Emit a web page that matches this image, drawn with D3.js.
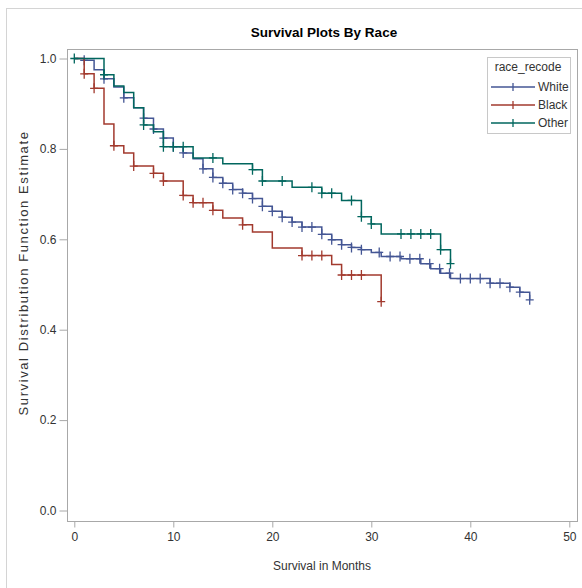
<!DOCTYPE html>
<html>
<head>
<meta charset="utf-8">
<script src="https://cdnjs.cloudflare.com/ajax/libs/d3/7.8.5/d3.min.js"></script>
<style>
  body { margin: 0; background: #fff; }
  svg { display: block; font-family: "Liberation Sans", Arial, sans-serif; }
</style>
</head>
<body>
<div id="chart"></div>
<script>
// survival step data (time in months, estimate after the drop)
const whiteTime = [1,2,3,4,5,6,7,8,9,10,11,12,13,14,15,16,17,18,19,20,21,22,23,25,26,27,28,29,30,31,33,35,36,37,38,42,44,45,46];
const whiteSurv = [0.996,0.975,0.955,0.937,0.913,0.891,0.868,0.844,0.824,0.805,0.791,0.778,0.756,0.737,0.724,0.710,0.702,0.690,0.673,0.662,0.649,0.638,0.627,0.611,0.599,0.588,0.582,0.577,0.571,0.562,0.557,0.546,0.535,0.525,0.513,0.503,0.494,0.483,0.466];
const whiteCensor = [1,3,5,7,8,9,10,11,13,14,15,16,17,18,19,20,21,22,23,24,25,26,27,28,29,30.8,31.9,32.9,33.9,34.9,35.9,36.9,37.9,39,40,41,42,43,44,45,46];

const blackTime = [1,2,3,4,5,6,8,9,11,12,14,15,17,18,20,23,26,27,31];
const blackSurv = [0.966,0.934,0.855,0.807,0.791,0.762,0.746,0.729,0.697,0.681,0.664,0.647,0.632,0.616,0.581,0.564,0.544,0.521,0.462];
const blackCensor = [1,2,4,6,8,9,11,12,13,14,17,23,24,25,27,28,29,31];

const otherTime = [3,4,5,6,7,8,9,12,15,18,19,22,25,27,29,30,31,37,38];
const otherSurv = [0.964,0.939,0.925,0.891,0.853,0.838,0.805,0.780,0.767,0.754,0.729,0.715,0.702,0.686,0.650,0.634,0.612,0.577,0.546];
const otherCensor = [0,3,7,9,10,11,14,18,19,21,24,25,26,28,29,30,33,34,35,36,37,38];

const groupNames = ["White", "Black", "Other"];
const groupColors = ["#445694", "#A23A2E", "#01665E"];
const xTicks = [0, 10, 20, 30, 40, 50];
const yTicks = [0, 0.2, 0.4, 0.6, 0.8, 1.0];

const groups = [
  { name: groupNames[0], color: groupColors[0], time: whiteTime, surv: whiteSurv, censor: whiteCensor },
  { name: groupNames[1], color: groupColors[1], time: blackTime, surv: blackSurv, censor: blackCensor },
  { name: groupNames[2], color: groupColors[2], time: otherTime, surv: otherSurv, censor: otherCensor }
];

const width = 582, height = 588;
const plot = { left: 67, right: 577, top: 49, bottom: 521 };

const svg = d3.select("#chart").append("svg")
  .attr("width", width)
  .attr("height", height);

// outer frame
svg.append("rect")
  .attr("x", 6.5).attr("y", 8.5)
  .attr("width", 600).attr("height", 600)
  .attr("fill", "none")
  .attr("stroke", "#d4d4d4");

const x = d3.scaleLinear().domain([0, 50]).range([74.3, 569.3]);
const y = d3.scaleLinear().domain([0, 1]).range([510.5, 58.5]);

// plot frame
svg.append("rect")
  .attr("x", plot.left + 0.5).attr("y", plot.top + 0.5)
  .attr("width", plot.right - plot.left).attr("height", plot.bottom - plot.top)
  .attr("fill", "none")
  .attr("stroke", "#a8a8a8");

const xAxis = svg.append("g")
  .attr("transform", `translate(0,${plot.bottom + 0.5})`)
  .call(d3.axisBottom(x).tickValues(xTicks).tickSize(6).tickPadding(5).tickFormat(d3.format("d")));

const yAxis = svg.append("g")
  .attr("transform", `translate(${plot.left + 0.5},0)`)
  .call(d3.axisLeft(y).tickValues(yTicks).tickSize(8).tickPadding(3).tickFormat(d3.format(".1f")));

[xAxis, yAxis].forEach(g => {
  g.select(".domain").remove();
  g.selectAll(".tick line").attr("stroke", "#a8a8a8");
  g.selectAll(".tick text").attr("fill", "#333").style("font-size", "12px");
});

// step curves
function stepPoints(g) {
  const pts = [[0, 1]];
  let cur = 1;
  g.time.forEach((t, i) => {
    pts.push([t, cur]);
    cur = g.surv[i];
    pts.push([t, cur]);
  });
  const last = d3.max(g.censor.concat(g.time));
  pts.push([last, cur]);
  return pts;
}

function survAt(g, t) {
  let s = 1;
  g.time.forEach((tt, i) => { if (tt <= t) s = g.surv[i]; });
  return s;
}

const line = d3.line().x(d => x(d[0])).y(d => y(d[1]));

groups.forEach(g => {
  svg.append("path")
    .datum(stepPoints(g))
    .attr("d", line)
    .attr("fill", "none")
    .attr("stroke", g.color)
    .attr("stroke-width", 1.5);

  svg.append("g").selectAll("path")
    .data(g.censor)
    .join("path")
    .attr("d", t => {
      const cx = x(t), cy = y(survAt(g, t));
      return `M${cx - 4},${cy}H${cx + 4}M${cx},${cy - 5}V${cy + 5}`;
    })
    .attr("stroke", g.color)
    .attr("stroke-width", 1.3)
    .attr("fill", "none");
});

// titles
svg.append("text")
  .attr("x", 324).attr("y", 37)
  .attr("text-anchor", "middle")
  .style("font-size", "13.5px")
  .style("font-weight", "bold")
  .attr("fill", "#000")
  .text("Survival Plots By Race");

svg.append("text")
  .attr("x", 322).attr("y", 570)
  .attr("text-anchor", "middle")
  .style("font-size", "12px")
  .attr("fill", "#333")
  .text("Survival in Months");

svg.append("text")
  .attr("transform", `translate(28,${(plot.top + plot.bottom) / 2 - 12}) rotate(-90)`)
  .attr("text-anchor", "middle")
  .style("font-size", "13px")
  .style("letter-spacing", "1.6px")
  .attr("fill", "#333")
  .text("Survival Distribution Function Estimate");

// legend
const legend = svg.append("g");
legend.append("rect")
  .attr("x", 487.5).attr("y", 57.5)
  .attr("width", 83).attr("height", 76)
  .attr("fill", "#fff")
  .attr("stroke", "#c8c8c8");
legend.append("text")
  .attr("x", 528).attr("y", 71)
  .attr("text-anchor", "middle")
  .style("font-size", "12px")
  .attr("fill", "#333")
  .text("race_recode");

groups.forEach((g, i) => {
  const ly = 87 + i * 18;
  legend.append("line")
    .attr("x1", 491).attr("x2", 535)
    .attr("y1", ly).attr("y2", ly)
    .attr("stroke", g.color).attr("stroke-width", 1.5);
  legend.append("line")
    .attr("x1", 513).attr("x2", 513)
    .attr("y1", ly - 4).attr("y2", ly + 4)
    .attr("stroke", g.color).attr("stroke-width", 1.3);
  legend.append("text")
    .attr("x", 538).attr("y", ly + 4)
    .style("font-size", "12px")
    .attr("fill", "#333")
    .text(g.name);
});
</script>
</body>
</html>
